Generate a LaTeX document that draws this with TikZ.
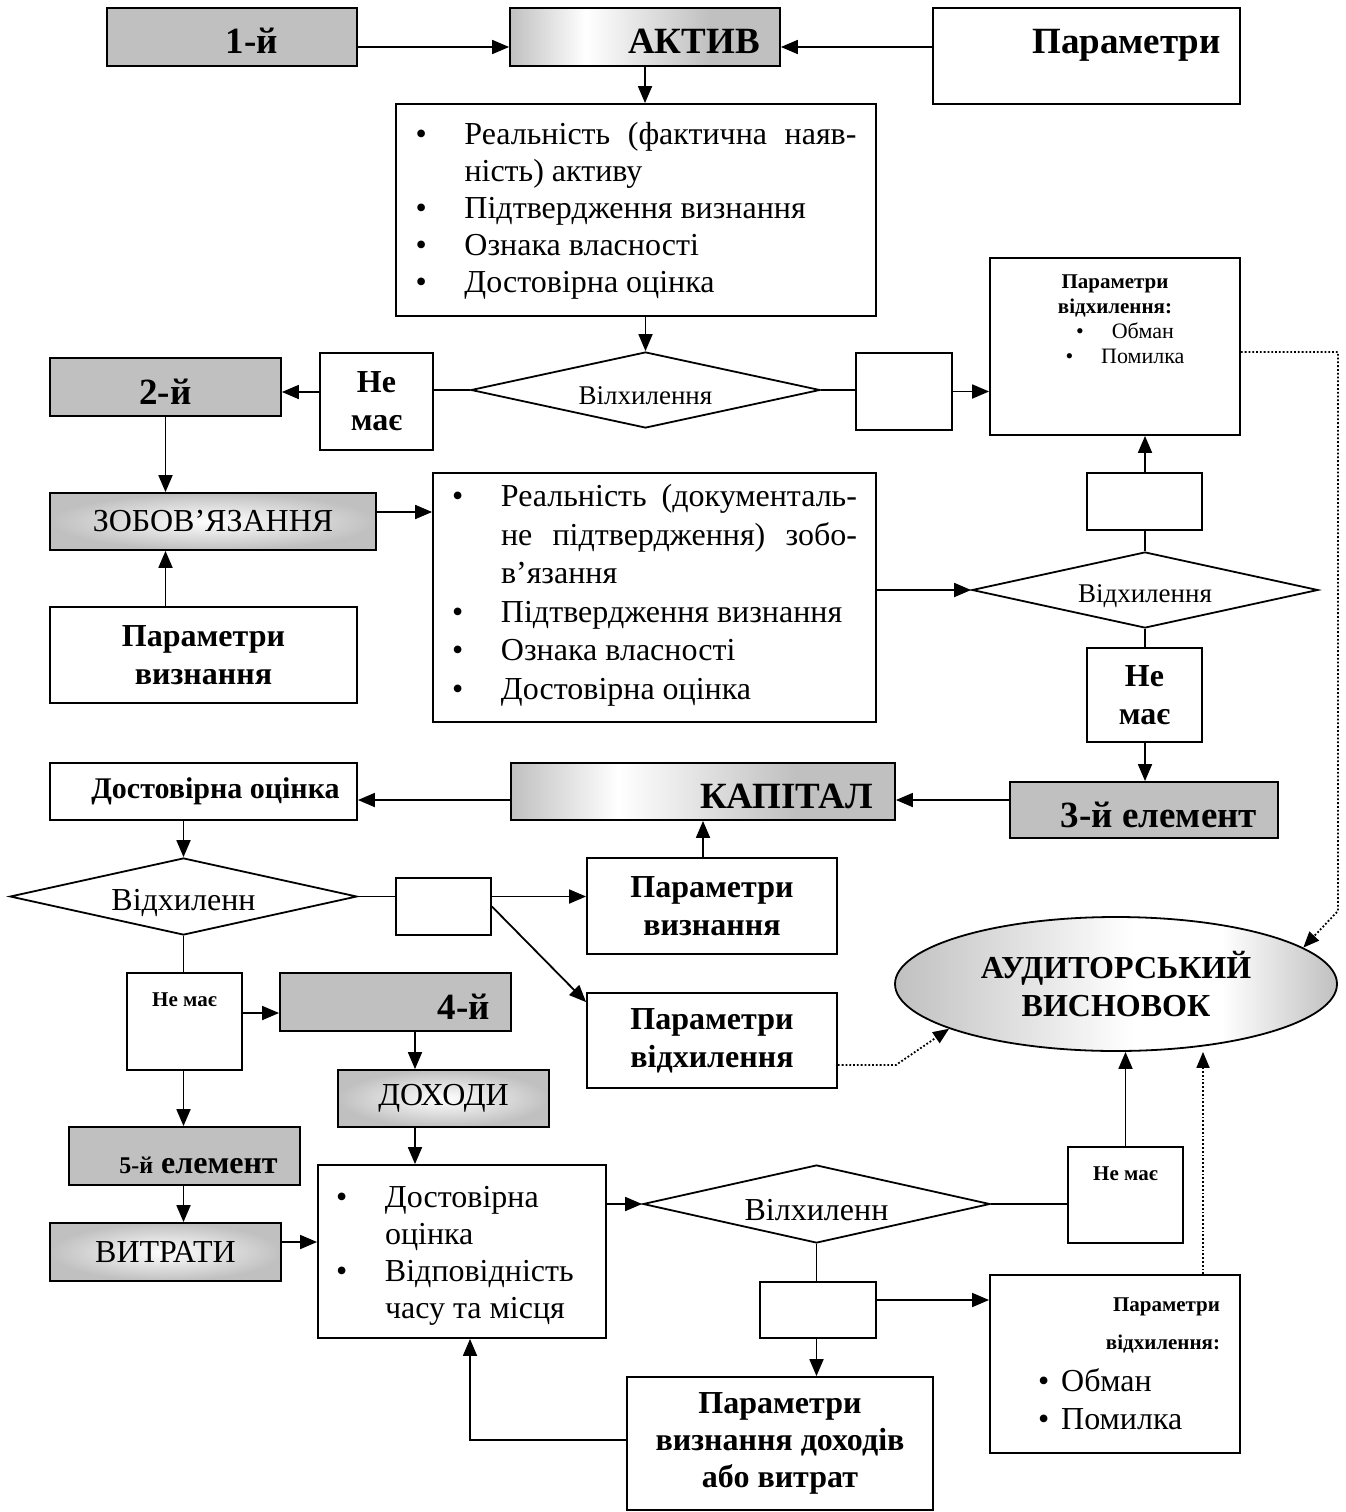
\documentclass[tikz,border=0pt]{standalone}
\usepackage{fontspec}
\setmainfont{Liberation Serif}
\usetikzlibrary{shapes.geometric,arrows.meta}
\definecolor{boxgray}{RGB}{192,192,192}
\pgfdeclarehorizontalshading{shade_left}{100bp}{color(0bp)=(boxgray); color(25bp)=(boxgray); color(39bp)=(white); color(62bp)=(boxgray); color(100bp)=(boxgray)}
\pgfdeclarehorizontalshading{shade_mid}{100bp}{color(0bp)=(boxgray); color(25bp)=(boxgray); color(52bp)=(white); color(62bp)=(white); color(75bp)=(boxgray); color(100bp)=(boxgray)}
\tikzstyle{box_plain} = [rectangle, draw, line width=1.8pt, fill=white, inner sep=0pt, font=\fontsize{32}{38}\selectfont]
\tikzstyle{box_bold} = [box_plain, align=center, font=\fontsize{32}{38}\selectfont\bfseries]
\tikzstyle{box_gray} = [box_plain, fill=boxgray, text height=34pt, text depth=0pt, font=\fontsize{37}{42}\selectfont\bfseries]
\tikzstyle{box_glow} = [box_plain, inner color=white, outer color=boxgray]
\tikzstyle{box_left} = [box_plain, shade, shading=shade_left, text height=34pt, text depth=0pt, font=\fontsize{37}{42}\selectfont\bfseries]
\tikzstyle{node_choice} = [diamond, aspect=4.5, draw, line width=1.8pt, fill=white, inner sep=0pt, text height=34pt, font=\fontsize{32}{38}\selectfont]
\tikzstyle{node_final} = [ellipse, draw, line width=1.8pt, shade, shading=shade_mid, inner sep=0pt, align=center, font=\fontsize{32}{38}\selectfont\bfseries]
\tikzstyle{text_small} = [inner sep=0pt, anchor=north, font=\fontsize{21}{25}\selectfont\bfseries]
\tikzstyle{edge_line} = [line width=1.8pt]
\tikzstyle{edge_arrow} = [edge_line, -{Triangle[length=17pt,width=14pt]}]
\tikzstyle{edge_dotted} = [line width=1.8pt, dotted, -{Triangle[length=16pt,width=13pt]}]
\newcommand{\listpoint}[1]{\par\noindent\hangindent=49pt\hangafter=1\makebox[49pt][l]{\textbullet}#1\par}

\begin{document}
\begin{tikzpicture}[x=1pt,y=-1pt]
		\useasboundingbox (0,0) rectangle (1345,1512);
		\node (n1) at (232,37) [box_gray, minimum width=250pt, minimum height=58pt] {\hspace*{40pt}1-й};
		\node (aktyv) at (645,37) [box_left, minimum width=270pt, minimum height=58pt] {\hspace*{98pt}АКТИВ};
		\node (par0) at (1086.5,56) [box_plain, minimum width=307pt, minimum height=96pt] {};
		\node (par0_text) at ([xshift=40pt,yshift=-22pt]par0.north) [text_small, font=\fontsize{37}{42}\selectfont\bfseries] {Параметри};
		\node (list1) at (636,210) [box_plain, minimum width=480pt, minimum height=212pt, font=\fontsize{32}{37}\selectfont] {\parbox[c][176pt][t]{441pt}{%
			\listpoint{Реальність (фактична наяв-\linebreak ність) активу}%
			\listpoint{Підтвердження визнання}%
			\listpoint{Ознака власності}%
			\listpoint{Достовірна оцінка}}};
		\node (d1) at (645.5,390) [node_choice, minimum width=349pt, minimum height=76pt, text height=30pt, font=\fontsize{27}{32}\selectfont] {Вілхилення};
		\node (nemae1) at (376.5,401.5) [box_bold, minimum width=113pt, minimum height=97pt] {Не\\має};
		\node (n2) at (165.5,387) [box_gray, minimum width=231pt, minimum height=58pt] {2-й};
		\node (e1) at (904,391.5) [box_plain, minimum width=96pt, minimum height=77pt] {};
		\node (pv1) at (1115,346.5) [box_plain, minimum width=250pt, minimum height=177pt] {};
		\node (pv1_text) at ([yshift=-17pt]pv1.north) [text_small, align=center] {Параметри\\відхилення:\\{\mdseries\fontsize{22}{25}\selectfont\hspace*{20pt}\textbullet\hspace{28pt}Обман}\\{\mdseries\fontsize{22}{25}\selectfont\hspace*{20pt}\textbullet\hspace{28pt}Помилка}};
		
		\node (zob) at (213,521.5) [box_glow, minimum width=326pt, minimum height=57pt] {ЗОБОВ’ЯЗАННЯ};
		\node (pvz1) at (203.5,655) [box_bold, minimum width=307pt, minimum height=96pt] {Параметри\\визнання};
		\node (list2) at (654.5,597.5) [box_plain, minimum width=443pt, minimum height=249pt, font=\fontsize{32}{38.5}\selectfont] {\parbox[c][226pt][t]{405pt}{%
			\listpoint{Реальність (документаль-\linebreak не підтвердження) зобо-\linebreak в’язання}%
			\listpoint{Підтвердження визнання}%
			\listpoint{Ознака власності}%
			\listpoint{Достовірна оцінка}}};
		\node (d2) at (1145,590) [node_choice, minimum width=346pt, minimum height=76pt, text height=30pt, font=\fontsize{27}{32}\selectfont] {Відхилення};
		\node (e2) at (1144.5,501.5) [box_plain, minimum width=115pt, minimum height=57pt] {};
		\node (nemae2) at (1144.5,695) [box_bold, minimum width=115pt, minimum height=94pt] {Не\\має};
		
		\node (n3) at (1144,810) [box_gray, minimum width=268pt, minimum height=56pt] {\hspace*{30pt}3-й елемент};
		\node (kap) at (703,791.5) [box_left, minimum width=384pt, minimum height=57pt] {\hspace*{167pt}КАПІТАЛ};
		\node (dost) at (203.5,791.5) [box_bold, minimum width=307pt, minimum height=57pt, font=\fontsize{30}{36}\selectfont\bfseries] {\hspace*{24pt}Достовірна оцінка};
		\node (d3) at (183.5,896.5) [node_choice, minimum width=347pt, minimum height=77pt] {Відхиленн};
		\node (e3) at (443.5,906.5) [box_plain, minimum width=95pt, minimum height=57pt] {};
		\node (pvz2) at (712,906) [box_bold, minimum width=250pt, minimum height=96pt] {Параметри\\визнання};
		\node (pvd) at (712,1040.5) [box_bold, minimum width=250pt, minimum height=95pt] {Параметри\\відхилення};
		\node (concl) at (1116,984) [node_final, minimum width=442pt, minimum height=134pt] {АУДИТОРСЬКИЙ\\ВИСНОВОК};
		
		\node (nemae3) at (184.5,1021.5) [box_plain, minimum width=115pt, minimum height=97pt] {};
		\node (nemae3_text) at ([yshift=-20pt]nemae3.north) [text_small] {Не має};
		\node (n4) at (395.5,1002) [box_gray, minimum width=231pt, minimum height=58pt] {\hspace*{137pt}4-й};
		\node (dokh) at (443.5,1098.5) [box_glow, minimum width=211pt, minimum height=57pt] {ДОХОДИ};
		\node (n5) at (184.5,1156) [box_gray, minimum width=231pt, minimum height=58pt, font=\fontsize{32}{38}\selectfont\bfseries] {\hspace*{28pt}{\fontsize{24}{28}\selectfont 5-й} елемент};
		\node (vytr) at (165.5,1252) [box_glow, minimum width=231pt, minimum height=58pt] {ВИТРАТИ};
		\node (list3) at (462,1251.5) [box_plain, minimum width=288pt, minimum height=173pt, font=\fontsize{32}{37}\selectfont] {\parbox[c][131pt][t]{252pt}{\raggedright
			\listpoint{Достовірна\newline оцінка}%
			\listpoint{Відповідність\newline часу та місця}}};
		\node (d4) at (816.5,1204) [node_choice, minimum width=347pt, minimum height=78pt] {Вілхиленн};
		\node (nemae4) at (1125.5,1195) [box_plain, minimum width=115pt, minimum height=96pt] {};
		\node (nemae4_text) at ([yshift=-20pt]nemae4.north) [text_small] {Не має};
		\node (e4) at (818,1310) [box_plain, minimum width=116pt, minimum height=56pt] {};
		\node (pvd2) at (780,1443.5) [box_bold, minimum width=306pt, minimum height=133pt, font=\fontsize{32}{37}\selectfont\bfseries] {Параметри\\визнання доходів\\або витрат};
		\node (pv2) at (1115,1364) [box_plain, minimum width=250pt, minimum height=178pt, text width=210pt, align=left, font=\fontsize{32}{38}\selectfont] {%
			\hspace*{\fill}{\fontsize{21}{25}\selectfont\bfseries Параметри}\\
			\hspace*{\fill}{\fontsize{21}{25}\selectfont\bfseries відхилення:}\\[4pt]
			\hspace*{28pt}\textbullet\hspace{12pt}Обман\\
			\hspace*{28pt}\textbullet\hspace{12pt}Помилка};
		
		\draw[edge_arrow] ([yshift=-10pt]n1.east) -- ([yshift=-10pt]aktyv.west);
		\draw[edge_arrow] ([yshift=9pt]par0.west) -- ([yshift=-10pt]aktyv.east);
		\draw[edge_arrow] (aktyv.south) -- (aktyv.south |- list1.north);
		\draw[edge_arrow] (d1.north |- list1.south) -- (d1.north);
		\draw[edge_line] (d1.west) -- (d1.west -| nemae1.east);
		\draw[edge_arrow] ([yshift=-5pt]n2.east -| nemae1.west) -- ([yshift=-5pt]n2.east);
		\draw[edge_line] (d1.east) -- (d1.east -| e1.west);
		\draw[edge_arrow] (e1.east) -- (e1.east -| pv1.west);
		\draw[edge_arrow] (n2.south) -- (n2.south |- zob.north);
		\draw[edge_arrow] (pvz1.north -| n2) -- (zob.south -| n2);
		\draw[edge_arrow] ([yshift=9.5pt]zob.east) -- ([yshift=9.5pt]zob.east -| list2.west);
		\draw[edge_arrow] (d2.west -| list2.east) -- (d2.west);
		\draw[edge_line] (d2.north) -- (d2.north |- e2.south);
		\draw[edge_arrow] (d2.north |- e2.north) -- (d2.north |- pv1.south);
		\draw[edge_line] (d2.south) -- (d2.south |- nemae2.north);
		\draw[edge_arrow] (d2.south |- nemae2.south) -- (d2.south |- n3.north);
		\draw[edge_arrow] ([yshift=10pt]n3.west) -- ([yshift=10pt]n3.west -| kap.east);
		\draw[edge_arrow] ([yshift=-8.5pt]kap.west) -- ([yshift=-8.5pt]kap.west -| dost.east);
		\draw[edge_arrow] (d3.north |- dost.south) -- (d3.north);
		\draw[edge_line] (d3.east) -- (d3.east -| e3.west);
		\draw[edge_arrow] (d3.east -| e3.east) -- (d3.east -| pvz2.west);
		\draw[edge_arrow] (e3.east) -- ([yshift=-10pt]pvd.north west);
		\draw[edge_arrow] (kap.south |- pvz2.north) -- (kap.south);
		\draw[edge_dotted] ([yshift=-24.5pt]pvd.east) -- ++(58,0) -- (concl.195);
		\draw[edge_dotted] ([yshift=-5.5pt]pv1.east) -- ++(97,0) -- ++(0,559) -- (concl.11);
		\draw[edge_line] (d3.south) -- (d3.south |- nemae3.north);
		\draw[edge_arrow] ([yshift=8.5pt]nemae3.east) -- ([yshift=8.5pt]nemae3.east -| n4.west);
		\draw[edge_arrow] (d3.south |- nemae3.south) -- (d3.south |- n5.north);
		\draw[edge_arrow] ([xshift=19.5pt]n4.south) -- ([xshift=19.5pt]n4.south |- dokh.north);
		\draw[edge_arrow] ([xshift=-28.5pt]dokh.south) -- ([xshift=-28.5pt]dokh.south |- list3.north);
		\draw[edge_arrow] (d3.south |- n5.south) -- (d3.south |- vytr.north);
		\draw[edge_arrow] ([yshift=10pt]vytr.east) -- ([yshift=10pt]vytr.east -| list3.west);
		\draw[edge_arrow] (d4.west -| list3.east) -- (d4.west);
		\draw[edge_line] (d4.east) -- (d4.east -| nemae4.west);
		\draw[edge_arrow] (nemae4.north) -- (nemae4.north |- concl.south);
		\draw[edge_line] (d4.south) -- (d4.south |- e4.north);
		\draw[edge_arrow] ([yshift=10pt]e4.east) -- ([yshift=10pt]e4.east -| pv2.west);
		\draw[edge_arrow] (d4.south |- e4.south) -- (d4.south |- pvd2.north);
		\draw[edge_arrow] ([yshift=3.5pt]pvd2.west) -| ([xshift=8pt]list3.south);
		\draw[edge_dotted] ([xshift=88pt]pv2.north) -- ([xshift=88pt]pv2.north |- concl.south);
\end{tikzpicture}
\end{document}
